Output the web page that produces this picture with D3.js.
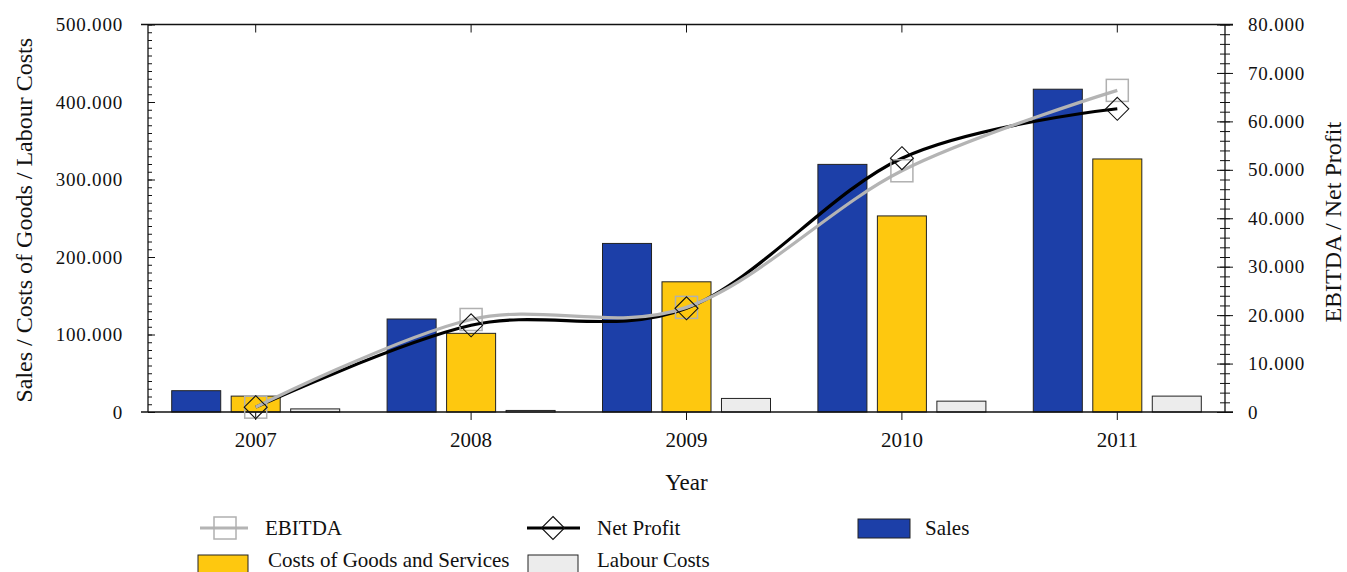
<!DOCTYPE html>
<html>
<head>
<meta charset="utf-8">
<script src="https://cdn.jsdelivr.net/npm/d3@7"></script>
<style>
  html, body { margin: 0; padding: 0; background: #fff; }
  svg { display: block; }
  text { font-family: "Liberation Serif", "Times New Roman", serif; fill: #111; }
</style>
</head>
<body>
<svg id="chart" width="1347" height="572"></svg>
<script>
// ---- data ----
const years = ["2007", "2008", "2009", "2010", "2011"];
const sales = [27500, 120000, 217500, 319500, 416500];
const costsGoods = [20500, 101500, 168000, 253000, 326500];
const labourCosts = [4000, 2000, 17500, 14000, 20500];
const ebitda = [1000, 19100, 21600, 49800, 66400];
const netProfit = [1000, 17900, 21400, 52400, 62600];
const leftTicks = [0, 100000, 200000, 300000, 400000, 500000];
const rightTicks = [0, 10000, 20000, 30000, 40000, 50000, 60000, 70000, 80000];
const barSeries = ["Sales", "Costs of Goods and Services", "Labour Costs"];
const barColors = ["#1c3fa8", "#fec80f", "#ececec"];

const svg = d3.select("#chart");
const L = 148, R = 1225, T = 24.5, B = 412;

const loc = d3.formatLocale({decimal: ",", thousands: ".", grouping: [3], currency: ["", ""]});
const fmt = loc.format(",");

const x = d3.scaleBand().domain(years).range([L, R]);
const yL = d3.scaleLinear().domain([0, 500000]).range([B, T]);
const yR = d3.scaleLinear().domain([0, 80000]).range([B, T]);
const xi = d3.scaleBand().domain(barSeries).range([-84, 84]).paddingInner(0.176);

const barData = [sales, costsGoods, labourCosts];

// bars
barSeries.forEach((s, si) => {
  svg.append("g").selectAll("rect").data(years).join("rect")
    .attr("x", (d) => x(d) + x.bandwidth() / 2 + xi(s))
    .attr("y", (d, i) => yL(barData[si][i]))
    .attr("width", xi.bandwidth())
    .attr("height", (d, i) => B - yL(barData[si][i]))
    .attr("fill", barColors[si])
    .attr("stroke", "#222")
    .attr("stroke-width", 1);
});

// frame lines
svg.append("line").attr("x1", L - 7).attr("x2", R + 8).attr("y1", T).attr("y2", T).attr("stroke", "#111").attr("stroke-width", 1.3);

// left axis
const gL = svg.append("g").attr("transform", `translate(${L},0)`);
gL.call(d3.axisLeft(yL).tickValues(d3.range(0, 500001, 10000)).tickFormat("").tickSize(3).tickSizeOuter(0))
  .call(g => g.select(".domain").remove())
  .call(g => g.selectAll(".tick line").attr("x2", 4).attr("stroke", "#111"));
gL.append("g").call(d3.axisLeft(yL).tickValues(leftTicks).tickFormat(fmt).tickSize(7).tickPadding(18).tickSizeOuter(0))
  .call(g => g.select(".domain").remove())
  .call(g => g.selectAll(".tick line").attr("x2", 7).attr("stroke", "#111"))
  .call(g => g.selectAll(".tick text").attr("font-size", 19).attr("letter-spacing", 0.8)
      .style("font-family", '"Liberation Serif", serif').attr("fill", "#222"));
gL.append("line").attr("y1", T).attr("y2", B).attr("stroke", "#111").attr("stroke-width", 1.3);

// right axis
const gR = svg.append("g").attr("transform", `translate(${R},0)`);
gR.call(d3.axisRight(yR).tickValues(d3.range(0, 80001, 2000)).tickFormat("").tickSize(5).tickSizeOuter(0))
  .call(g => g.select(".domain").remove())
  .call(g => g.selectAll(".tick line").attr("x1", -5).attr("stroke", "#111"));
gR.append("g").call(d3.axisRight(yR).tickValues(rightTicks).tickFormat(fmt).tickSize(8).tickPadding(15).tickSizeOuter(0))
  .call(g => g.select(".domain").remove())
  .call(g => g.selectAll(".tick line").attr("x1", -8).attr("stroke", "#111"))
  .call(g => g.selectAll(".tick text").attr("font-size", 19).attr("letter-spacing", 0.8)
      .style("font-family", '"Liberation Serif", serif').attr("fill", "#222"));
gR.append("line").attr("y1", T).attr("y2", B).attr("stroke", "#111").attr("stroke-width", 1.3);

// bottom axis
const gB = svg.append("g").attr("transform", `translate(0,${B})`);
gB.call(d3.axisBottom(x).tickSize(8).tickPadding(12).tickSizeOuter(0))
  .call(g => g.select(".domain").remove())
  .call(g => g.selectAll(".tick line").attr("stroke", "#111"))
  .call(g => g.selectAll(".tick text").attr("font-size", 21)
      .style("font-family", '"Liberation Serif", serif').attr("fill", "#222"));
svg.append("line").attr("x1", L - 7).attr("x2", R + 8).attr("y1", B).attr("y2", B).attr("stroke", "#111").attr("stroke-width", 1.3);

// top ticks (inward)
const gT = svg.append("g").attr("transform", `translate(0,${T})`);
gT.call(d3.axisTop(x).tickSize(-8).tickFormat("").tickSizeOuter(0))
  .call(g => g.select(".domain").remove())
  .call(g => g.selectAll(".tick line").attr("stroke", "#111"));

// axis titles
svg.append("text").attr("x", (L + R) / 2).attr("y", 490).attr("text-anchor", "middle")
  .attr("font-size", 23).text("Year");
svg.append("text").attr("transform", `translate(32,${(T + B) / 2 + 2}) rotate(-90)`)
  .attr("text-anchor", "middle").attr("font-size", 24).text("Sales / Costs of Goods / Labour Costs");
svg.append("text").attr("transform", `translate(1341,${(T + B) / 2 + 4}) rotate(-90)`)
  .attr("text-anchor", "middle").attr("font-size", 24).text("EBITDA / Net Profit");

// lines
const cx = (d) => x(d) + x.bandwidth() / 2;
const lineGen = (vals) => d3.line().curve(d3.curveCardinal.tension(0))
  .x((d) => cx(d)).y((d, i) => yR(vals[i]))(years);

svg.append("path").attr("d", lineGen(netProfit)).attr("fill", "none")
  .attr("stroke", "#000").attr("stroke-width", 3.2);
svg.append("path").attr("d", lineGen(ebitda)).attr("fill", "none")
  .attr("stroke", "#b4b4b4").attr("stroke-width", 3.2);

// markers
const sq = 22;
svg.append("g").selectAll("rect").data(years).join("rect")
  .attr("x", (d) => cx(d) - sq / 2).attr("y", (d, i) => yR(ebitda[i]) - sq / 2)
  .attr("width", sq).attr("height", sq).attr("fill", "none")
  .attr("stroke", "#b0b0b0").attr("stroke-width", 1.5);
const dia = (cxv, cyv, r) => `M${cxv},${cyv - r}L${cxv + r},${cyv}L${cxv},${cyv + r}L${cxv - r},${cyv}Z`;
svg.append("g").selectAll("path").data(years).join("path")
  .attr("d", (d, i) => dia(cx(d), yR(netProfit[i]), 11.5))
  .attr("fill", "none").attr("stroke", "#111").attr("stroke-width", 1.1);

// legend
const lg = svg.append("g");
// EBITDA
lg.append("line").attr("x1", 200).attr("x2", 248).attr("y1", 528).attr("y2", 528).attr("stroke", "#b4b4b4").attr("stroke-width", 3.2);
lg.append("rect").attr("x", 214).attr("y", 517).attr("width", 22).attr("height", 22).attr("fill", "none").attr("stroke", "#b0b0b0").attr("stroke-width", 1.5);
lg.append("text").attr("x", 265).attr("y", 535).attr("font-size", 21).text("EBITDA");
// Net Profit
lg.append("line").attr("x1", 527).attr("x2", 580).attr("y1", 528).attr("y2", 528).attr("stroke", "#000").attr("stroke-width", 3.2);
lg.append("path").attr("d", dia(553, 528, 11.5)).attr("fill", "none").attr("stroke", "#111").attr("stroke-width", 1.1);
lg.append("text").attr("x", 597).attr("y", 535).attr("font-size", 21).text("Net Profit");
// Sales
lg.append("rect").attr("x", 858).attr("y", 519).attr("width", 52).attr("height", 19).attr("fill", barColors[0]).attr("stroke", "#222");
lg.append("text").attr("x", 925).attr("y", 535).attr("font-size", 21).text(barSeries[0]);
// Costs
lg.append("rect").attr("x", 198).attr("y", 555).attr("width", 50).attr("height", 20).attr("fill", barColors[1]).attr("stroke", "#222");
lg.append("text").attr("x", 268).attr("y", 567).attr("font-size", 21).text(barSeries[1]);
// Labour
lg.append("rect").attr("x", 528).attr("y", 555).attr("width", 50).attr("height", 20).attr("fill", barColors[2]).attr("stroke", "#222");
lg.append("text").attr("x", 597).attr("y", 567).attr("font-size", 21).text(barSeries[2]);
</script>
</body>
</html>
